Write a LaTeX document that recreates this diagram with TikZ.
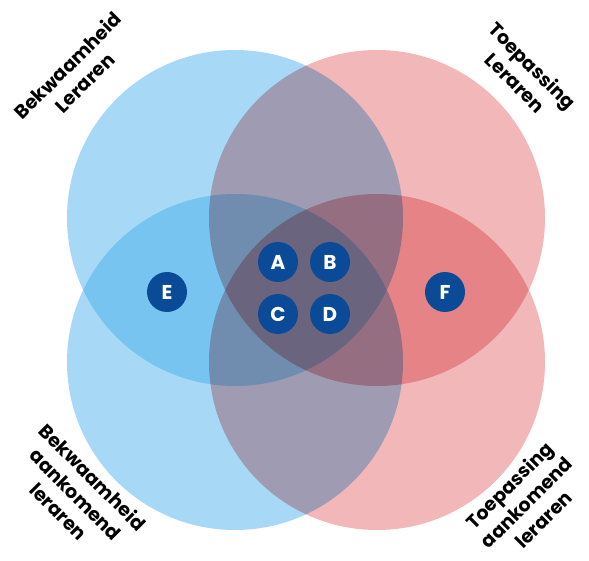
\documentclass[tikz,border=0pt]{standalone}
\usepackage{fontspec}
\setmainfont{Poppins}
\definecolor{circleblue}{RGB}{60,170,235}
\definecolor{lightred}{RGB}{242,183,185}
\definecolor{markblue}{RGB}{10,74,150}
\tikzset{
	label/.style={font=\fontsize{19}{24}\selectfont\bfseries, align=center, inner sep=0pt},
	marker/.style={circle, fill=markblue, minimum size=40pt, inner sep=0pt, text=white, font=\fontsize{20}{20}\selectfont\bfseries}
}
\begin{document}
\begin{tikzpicture}[x=1pt, y=-1pt]
	\useasboundingbox (0, 0) rectangle (589, 561);

	\fill[circleblue, fill opacity=0.45] (235, 218) circle [radius=168pt];
	\fill[circleblue, fill opacity=0.45] (235, 362) circle [radius=168pt];
	\fill[lightred, blend mode=multiply] (377, 218) circle [radius=168pt];
	\fill[lightred, blend mode=multiply] (377, 362) circle [radius=168pt];

	\node[marker] (a) at (278, 262) {A};
	\node[marker] (b) at (330, 262) {B};
	\node[marker] (c) at (278, 314) {C};
	\node[marker] (d) at (330, 314) {D};
	\node[marker] (e) at (167, 292) {E};
	\node[marker] (f) at (445, 292) {F};

	\node[label, rotate=45] (bl) at (76, 74) {Bekwaamheid\\Leraren};
	\node[label, rotate=-45] (tl) at (524, 74) {Toepassing\\Leraren};
	\node[label, rotate=-45] (ba) at (76, 494) {Bekwaamheid\\aankomend\\leraren};
	\node[label, rotate=45] (ta) at (526, 502) {Toepassing\\aankomend\\leraren};
\end{tikzpicture}
\end{document}
